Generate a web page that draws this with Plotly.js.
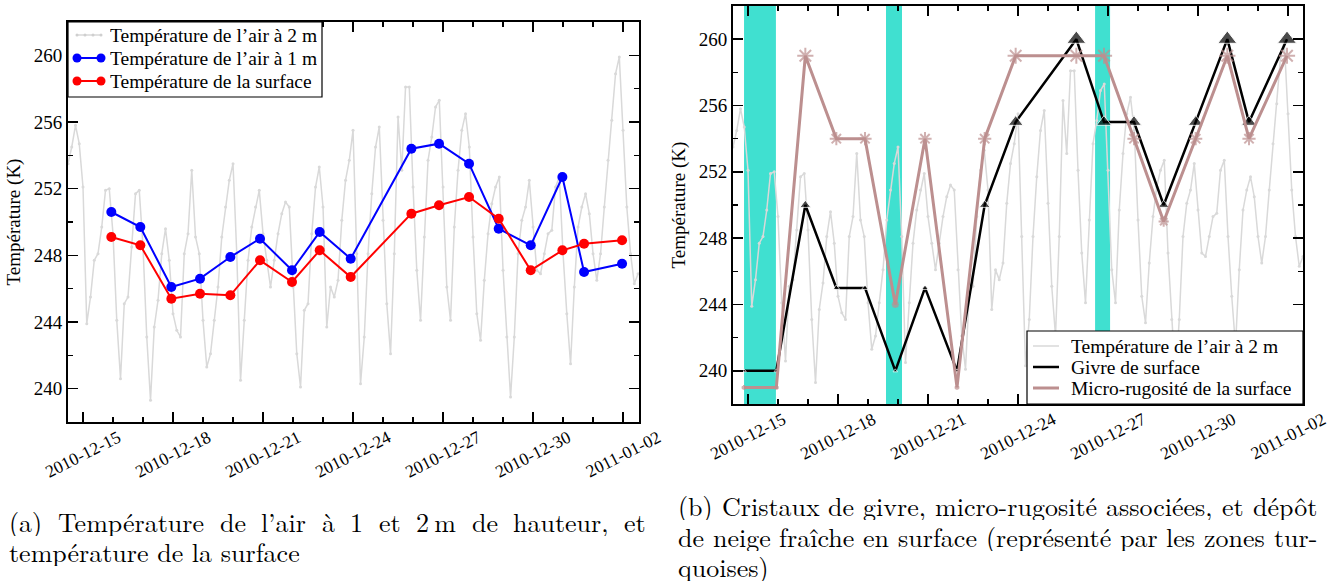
<!DOCTYPE html>
<html><head><meta charset="utf-8">
<script src="https://cdn.plot.ly/plotly-3.0.1.min.js"></script>
<style>html,body{margin:0;padding:0;background:#fff;} #chart{width:1343px;height:584px;}</style>
</head><body><div id="chart"></div>
<script>
// ---------- data ----------
// 2 m air temperature (K), one reading every 3 hours starting 2010-12-14 12:00
const airStart = '2010-12-14T12:00:00Z';
const airStepHours = 3;
const air2m = [
 253.5,254.5,255.8,254.7,252.1,243.9,245.5,247.7,
 248.1,249.7,251.9,252.0,249.3,244.1,240.6,245.1,
 245.5,248.5,251.7,251.9,248.5,243.1,239.3,243.7,
 245.3,248.1,249.6,247.7,244.5,243.5,243.1,248.1,
 249.3,253.1,249.1,248.1,244.1,241.3,242.1,244.1,
 246.1,249.1,250.9,252.5,253.5,248.1,240.5,244.1,
 247.7,249.7,250.9,251.9,249.3,247.7,246.1,247.7,
 249.3,250.5,251.2,250.9,246.1,242.1,240.1,244.7,
 245.1,249.3,252.1,253.3,250.9,243.7,246.1,245.5,
 246.5,250.1,252.5,253.7,255.5,248.1,240.3,243.1,
 248.1,251.7,254.5,255.7,250.1,245.1,242.1,248.1,
 256.3,253.1,258.1,258.1,252.1,247.1,244.1,249.1,
 253.7,255.1,256.9,257.3,252.1,246.1,244.1,249.7,
 253.1,255.5,256.5,254.5,249.1,244.5,242.9,246.5,
 249.3,251.1,252.1,252.7,247.1,243.1,239.5,243.1,
 248.1,250.1,250.9,252.5,249.7,247.1,246.9,248.1,
 249.3,249.5,252.1,252.7,248.1,244.5,241.5,246.1,
 249.7,250.9,251.7,250.5,248.1,246.5,248.1,250.9,
 253.7,256.1,258.9,259.9,255.5,250.9,248.1,246.3,
 246.9
];

// daily observation times
const obsTimes = [
 '2010-12-15 22:40','2010-12-16 21:52','2010-12-17 22:40','2010-12-18 21:36',
 '2010-12-19 21:52','2010-12-20 21:36','2010-12-21 23:12','2010-12-22 21:20',
 '2010-12-23 22:08','2010-12-25 22:40','2010-12-26 20:48','2010-12-27 20:48',
 '2010-12-28 20:32','2010-12-29 22:08','2010-12-30 23:28','2010-12-31 16:48',
 '2011-01-01 23:12'
];
const air1m = [250.6,249.7,246.1,246.6,247.9,249.0,247.1,249.4,247.8,254.4,254.7,253.5,249.6,248.6,252.7,247.0,247.5];
const surfT = [249.1,248.6,245.4,245.7,245.6,247.7,246.4,248.3,246.7,250.5,251.0,251.5,250.2,247.1,248.3,248.7,248.9];

// frost / micro-roughness observations (plotted on the temperature scale)
const frostTimes = ['2010-12-14 20:48'].concat(obsTimes);
const frost = [240,240,250,245,245,240,245,240,250,255,260,255,255,250,255,260,255,260];
const rough = [239,239,259,254,254,244,254,239,254,259,259,259,254,249,254,259,254,259];

// fresh snow deposits
const snowStart = ['2010-12-14 20:50','2010-12-19 14:24','2010-12-26 13:40'];
const snowEnd   = ['2010-12-15 22:20','2010-12-20 03:12','2010-12-27 01:40'];

// labels
const lblAir2 = 'Température de l’air à 2 m';
const lblAir1 = 'Température de l’air à 1 m';
const lblSurf = 'Température de la surface';
const lblFrost = 'Givre de surface';
const lblRough = 'Micro-rugosité de la surface';
const yTitle = 'Température (K)';
const capA = ['(a) Température de l’air à 1 et 2\u2009m de hauteur, et', 'température de la surface'];
const capB = ['(b) Cristaux de givre, micro-rugosité associées, et dépôt', 'de neige fraîche en surface (représenté par les zones tur-', 'quoises)'];

// ---------- build ----------
const W = 1343, H = 584;
const F = 'Liberation Serif, Times New Roman, serif';
const CAPF = 'Latin Modern Roman, Liberation Serif, serif';
const DAY = 86400000;

function fmt(ms){ return new Date(ms).toISOString().slice(0,16).replace('T',' '); }
const t0 = Date.parse(airStart);
const airTimes = air2m.map((_, i) => fmt(t0 + i*airStepHours*3600000));

const GRAY = '#d9d9d9';
const ROSY = '#bc8f8f';
const BLUE = '#0000ff', RED = '#ff0000';

const frostSize = frost.map(v => Math.max(4, 0.7*(v-245)+6));
const roughSize = rough.map(v => Math.max(4, 0.5*(v-244)+6));

const traces = [
 {x: airTimes, y: air2m, xaxis:'x', yaxis:'y', name: lblAir2, mode:'lines+markers',
  line:{color:GRAY, width:1.5}, marker:{color:GRAY, size:3}},
 {x: obsTimes, y: air1m, xaxis:'x', yaxis:'y', name: lblAir1, mode:'lines+markers',
  line:{color:BLUE, width:2}, marker:{color:BLUE, size:10}},
 {x: obsTimes, y: surfT, xaxis:'x', yaxis:'y', name: lblSurf, mode:'lines+markers',
  line:{color:RED, width:2}, marker:{color:RED, size:10}},
 {x: airTimes, y: air2m, xaxis:'x2', yaxis:'y2', name: lblAir2, mode:'lines+markers',
  line:{color:GRAY, width:1.5}, marker:{color:GRAY, size:3}},
 {x: frostTimes, y: frost, xaxis:'x2', yaxis:'y2', name: lblFrost, mode:'lines+markers',
  line:{color:'#000', width:2.5}, marker:{color:'#000', symbol:'triangle-up', size:frostSize}},
 {x: frostTimes, y: rough, xaxis:'x2', yaxis:'y2', name: lblRough, mode:'lines+markers',
  line:{color:ROSY, width:3}, marker:{color:ROSY, symbol:'asterisk-open', size:roughSize, line:{color:ROSY, width:2}}}
];

function xax(domain, range, anchor){
 return {domain, anchor, type:'date', range, tick0:'2010-12-15', dtick:3*DAY, tickformat:'%Y-%m-%d',
  tickangle:-27, ticks:'inside', ticklen:10, tickwidth:1.5, tickcolor:'#000',
  showline:true, linecolor:'#000', linewidth:2, mirror:'allticks', showgrid:false, zeroline:false,
  ticklabelshift:35, ticklabelstandoff:-3, tickfont:{family:F, size:17.5, color:'#000'},
  minor:{dtick:DAY, ticks:'inside', ticklen:5, tickwidth:1.5, tickcolor:'#000', showgrid:false}};
}
function yax(domain, anchor){
 return {domain, anchor, range:[238,262], tick0:240, dtick:4, ticks:'inside', ticklen:10, tickwidth:1.5, tickcolor:'#000',
  showline:true, linecolor:'#000', linewidth:2, mirror:'allticks', showgrid:false, zeroline:false,
  tickfont:{family:F, size:19, color:'#000'},
  title:{text:yTitle, font:{family:F, size:19, color:'#000'}, standoff:8},
  minor:{dtick:2, ticks:'inside', ticklen:5, tickwidth:1.5, tickcolor:'#000', showgrid:false}};
}

// snow bands
const shapes = snowStart.map((s, i) => ({type:'rect', xref:'x2', yref:'y2 domain', x0:s, x1:snowEnd[i], y0:0, y1:1,
  fillcolor:'#40e0d0', line:{width:0}, layer:'below'}));

// hand-drawn legends (boxed, as in the original figure)
const px = x => x/W, py = y => 1 - y/H;
const LEGF = {family:F, size:19.5, color:'#000'};
function box(x0,y0,x1,y1){ return {type:'rect', xref:'paper', yref:'paper', x0:px(x0), x1:px(x1), y0:py(y1), y1:py(y0), fillcolor:'#fff', line:{color:'#000', width:1.2}, layer:'above'}; }
function seg(x0,x1,y,color,width){ return {type:'line', xref:'paper', yref:'paper', x0:px(x0), x1:px(x1), y0:py(y), y1:py(y), line:{color, width}, layer:'above'}; }
function dot(x,y,d,color){ return {type:'circle', xref:'paper', yref:'paper', x0:px(x-d/2), x1:px(x+d/2), y0:py(y+d/2), y1:py(y-d/2), fillcolor:color, line:{width:0}, layer:'above'}; }
function ltext(text, x, y){ return {text, x:px(x), y:py(y), xref:'paper', yref:'paper', xanchor:'left', yanchor:'middle', showarrow:false, font:LEGF, height:22}; }

const legendA = [{label:lblAir2, color:GRAY, w:1.5, d:3}, {label:lblAir1, color:BLUE, w:2, d:9}, {label:lblSurf, color:RED, w:2, d:9}];
const legendB = [{label:lblAir2, color:GRAY, w:1.5, d:0}, {label:lblFrost, color:'#000', w:2.5, d:0}, {label:lblRough, color:ROSY, w:3, d:0}];
const annotations = [];
shapes.push(box(68, 22, 322, 97));
legendA.forEach((e, i) => {
 const y = 35 + i*23;
 shapes.push(seg(77, 101, y, e.color, e.w));
 if (e.d > 3) { shapes.push(dot(77, y, e.d, e.color), dot(101, y, e.d, e.color)); }
 else { [77, 85, 93, 101].forEach(x => shapes.push(dot(x, y, e.d, '#cfcfcf'))); }
 annotations.push(ltext(e.label, 108, y));
});
shapes.push(box(1027, 331, 1303, 404));
legendB.forEach((e, i) => {
 const y = 346 + i*21;
 shapes.push(seg(1033, 1059, y, e.color, e.w));
 annotations.push(ltext(e.label, 1069, y));
});

// captions (justified lines laid out word by word)
const CAP = 26;
const ctx = document.createElement('canvas').getContext('2d');
ctx.font = CAP + 'px Latin Modern Roman, Liberation Serif, serif';
function capLine(text, x0, x1, yc, justify){
 const base = {xref:'paper', yref:'paper', xanchor:'left', yanchor:'middle', showarrow:false,
   font:{family:CAPF, size:CAP, color:'#000'}, borderpad:0, height:29};
 if(!justify) return [Object.assign({}, base, {text, x:x0/W, y:1-yc/H})];
 const words = text.split(' ');
 const widths = words.map(w => ctx.measureText(w).width);
 const total = widths.reduce((a,b)=>a+b, 0);
 const gap = (x1 - x0 - total)/(words.length-1);
 let x = x0; const out = [];
 words.forEach((w,i) => { out.push(Object.assign({}, base, {text:w, x:x/W, y:1-yc/H})); x += widths[i] + gap; });
 return out;
}
annotations.push(
 ...capLine(capA[0], 8, 645, 521, true),
 ...capLine(capA[1], 8, 645, 551, false),
 ...capLine(capB[0], 677, 1316, 505, true),
 ...capLine(capB[1], 677, 1316, 536, true),
 ...capLine(capB[2], 677, 1316, 566, false)
);

const layout = {
 width:W, height:H, margin:{l:0, r:0, t:0, b:0}, paper_bgcolor:'#fff', plot_bgcolor:'#fff',
 font:{family:F, size:19, color:'#000'}, showlegend:false,
 xaxis: xax([68/W, 639/W], ['2010-12-14 12:00','2011-01-02 12:45'], 'y'),
 yaxis: yax([(H-422)/H, (H-22)/H], 'x'),
 xaxis2: xax([733/W, 1303/W], ['2010-12-14 12:00','2011-01-02 12:00'], 'y2'),
 yaxis2: yax([(H-404)/H, (H-6)/H], 'x2'),
 shapes, annotations
};

Plotly.newPlot('chart', traces, layout, {displayModeBar:false, staticPlot:true});
</script>
</body></html>
